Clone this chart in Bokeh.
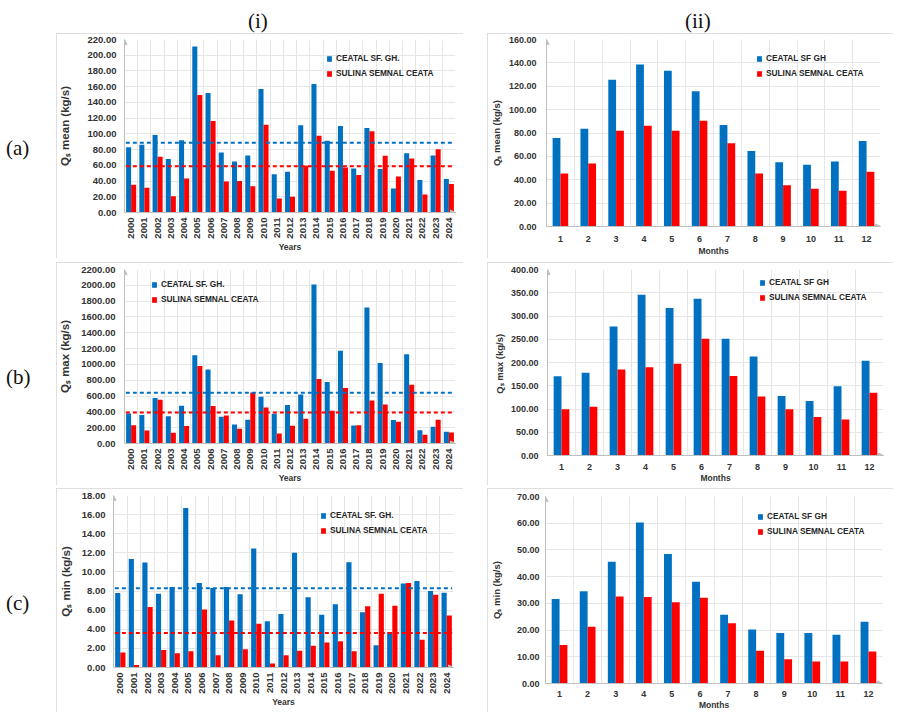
import math
from bokeh.plotting import figure
from bokeh.models import (Range1d, FixedTicker, NumeralTickFormatter, Legend, LegendItem,
                          Arrow, NormalHead, Div, Spacer, ColumnDataSource)
from bokeh.layouts import row, column
from bokeh.embed import file_html
from bokeh.resources import INLINE

# ---- categories -------------------------------------------------------------
years = ["2000", "2001", "2002", "2003", "2004", "2005", "2006", "2007", "2008",
         "2009", "2010", "2011", "2012", "2013", "2014", "2015", "2016", "2017",
         "2018", "2019", "2020", "2021", "2022", "2023", "2024"]
months = ["1", "2", "3", "4", "5", "6", "7", "8", "9", "10", "11", "12"]

# ---- annual suspended sediment discharge (kg/s) -----------------------------
ceatal_mean_annual = [83.0, 86.0, 98.5, 68.0, 92.0, 211.0, 152.0, 76.4, 65.0, 72.6,
                      157.0, 48.8, 51.8, 111.0, 163.5, 91.3, 110.0, 56.0, 107.4, 55.2,
                      30.6, 75.2, 41.2, 72.6, 42.5]
sulina_mean_annual = [35.2, 31.4, 70.9, 20.8, 43.3, 149.5, 116.3, 39.5, 39.9, 33.5,
                      111.7, 17.8, 20.0, 59.4, 97.7, 53.0, 57.3, 47.6, 103.2, 72.2,
                      45.9, 68.8, 22.9, 80.3, 36.1]
ceatal_max_annual = [380, 359, 574, 346, 477, 1115, 937, 338, 241, 300,
                     591, 376, 486, 621, 2010, 777, 1174, 228, 1720, 1018,
                     296, 1128, 169, 211, 148]
sulina_max_annual = [232, 165, 553, 135, 220, 980, 473, 355, 186, 646,
                     456, 127, 224, 312, 815, 414, 701, 232, 545, 494,
                     274, 743, 110, 300, 139]
ceatal_min_annual = [7.80, 11.36, 10.98, 7.73, 8.43, 16.68, 8.85, 8.32, 8.43, 7.66,
                     12.45, 4.83, 5.59, 12.00, 7.34, 5.52, 6.61, 11.01, 5.77, 2.34,
                     3.71, 8.78, 9.06, 8.00, 7.83]
sulina_min_annual = [1.57, 0.25, 6.33, 1.82, 1.50, 1.71, 6.08, 1.29, 4.93, 1.92,
                     4.58, 0.42, 1.29, 1.75, 2.27, 2.62, 2.76, 1.71, 6.40, 7.73,
                     6.47, 8.85, 2.90, 7.62, 5.45]

# ---- monthly suspended sediment discharge (kg/s) ----------------------------
ceatal_mean_monthly = [75.7, 83.7, 125.5, 138.7, 133.3, 115.7, 86.8, 64.7, 55.0, 52.8, 55.6, 73.2]
sulina_mean_monthly = [45.4, 53.9, 82.0, 86.2, 82.0, 90.5, 71.2, 45.4, 35.2, 32.3, 30.6, 46.8]
ceatal_max_monthly = [170.3, 178.0, 277.6, 345.6, 317.0, 337.0, 251.0, 213.0, 128.0, 117.4, 148.8, 204.0]
sulina_max_monthly = [99.5, 105.0, 185.0, 189.6, 197.5, 251.0, 171.0, 126.7, 99.5, 83.0, 77.3, 135.0]
ceatal_min_monthly = [31.6, 34.5, 45.6, 60.25, 48.5, 38.1, 25.75, 20.25, 18.9, 18.9, 18.25, 23.1]
sulina_min_monthly = [14.4, 21.25, 32.6, 32.4, 30.4, 32.1, 22.6, 12.25, 9.1, 8.25, 8.25, 12.0]

BLUE = "#0070C0"
RED = "#FF0000"
FONT = "Liberation Sans"
TEXT = "#333333"
AXIS = "#bfbfbf"
GRID = "#e6e6e6"


def panel(cats, blue, red, names, ymax, ystep, ytitle, xtitle, size, borders,
          bar_w, legend_at, show_means, rotate, tick_px, ytitle_px,
          ytick_standoff, ytitle_standoff, xtick_standoff, xtitle_standoff):
    n = len(cats)
    w, h = size
    bl, br, bt, bb = borders
    p = figure(width=w, height=h, x_range=Range1d(0.5, n + 0.5), y_range=Range1d(0, ymax),
               output_backend="svg", toolbar_location=None,
               min_border_left=bl, min_border_right=br, min_border_top=bt, min_border_bottom=bb,
               background_fill_color="white", border_fill_color="white",
               outline_line_color=None,
               styles={"outline": "1px solid #d4d4d4", "outline-offset": "-1px"})

    pos = list(range(1, n + 1))
    src = ColumnDataSource(dict(xb=[x - bar_w / 2 for x in pos],
                                xr=[x + bar_w / 2 for x in pos],
                                blue=blue, red=red))
    rb = p.vbar(x="xb", top="blue", width=bar_w, source=src, fill_color=BLUE, line_color=None)
    rr = p.vbar(x="xr", top="red", width=bar_w, source=src, fill_color=RED, line_color=None)

    if show_means:
        for vals, col in ((blue, BLUE), (red, RED)):
            m = sum(vals) / len(vals)
            p.line(x=[0.6, n + 0.4], y=[m, m], line_color=col, line_width=2, line_dash="4 3")

    # grid
    p.ygrid.ticker = FixedTicker(ticks=[i * ystep for i in range(int(round(ymax / ystep)) + 1)])
    p.ygrid.grid_line_color = GRID
    p.xgrid.ticker = FixedTicker(ticks=[i + 0.5 for i in range(n + 1)])
    p.xgrid.grid_line_color = GRID

    # axes
    for ax in (p.xaxis[0], p.yaxis[0]):
        ax.axis_line_color = AXIS
        ax.major_tick_line_color = None
        ax.minor_tick_line_color = None
        ax.major_tick_out = 0
        ax.major_tick_in = 0
        ax.minor_tick_out = 0
        ax.minor_tick_in = 0
        ax.major_label_text_font = FONT
        ax.major_label_text_font_style = "bold"
        ax.major_label_text_color = TEXT
        ax.major_label_text_font_size = f"{tick_px}px"
        ax.axis_label_text_font = FONT
        ax.axis_label_text_font_style = "bold"
        ax.axis_label_text_color = TEXT

    p.yaxis.ticker = FixedTicker(ticks=[i * ystep for i in range(int(round(ymax / ystep)) + 1)])
    p.yaxis.formatter = NumeralTickFormatter(format="0.00")
    p.yaxis.axis_label = ytitle
    p.yaxis.axis_label_text_font_size = f"{ytitle_px}px"
    p.yaxis.major_label_standoff = ytick_standoff
    p.yaxis.axis_label_standoff = ytitle_standoff

    p.xaxis.ticker = FixedTicker(ticks=pos)
    p.xaxis.major_label_overrides = {i + 1: c for i, c in enumerate(cats)}
    if rotate:
        p.xaxis.major_label_orientation = math.pi / 2
    p.xaxis.axis_label = xtitle
    p.xaxis.axis_label_text_font_size = "8.5px"
    p.xaxis.major_label_standoff = xtick_standoff
    p.xaxis.axis_label_standoff = xtitle_standoff

    # arrow heads at the axis ends
    head = dict(size=5, fill_color=AXIS, line_color=AXIS)
    p.add_layout(Arrow(end=NormalHead(**head), x_start=0.5, y_start=0, x_end=0.5, y_end=ymax,
                       line_color=AXIS, line_width=1))
    p.add_layout(Arrow(end=NormalHead(**head), x_start=0.5, y_start=0, x_end=n + 0.5, y_end=0,
                       line_color=AXIS, line_width=1))

    legend = Legend(items=[LegendItem(label=names[0], renderers=[rb]),
                           LegendItem(label=names[1], renderers=[rr])],
                    location=legend_at, orientation="vertical",
                    background_fill_alpha=0, border_line_color=None,
                    glyph_width=6, glyph_height=7, label_height=7, label_standoff=4,
                    spacing=5, padding=0, margin=0,
                    label_text_font=FONT, label_text_font_style="bold",
                    label_text_font_size="8.3px", label_text_color="#262626")
    p.add_layout(legend)
    return p


names_annual = ["CEATAL SF. GH.", "SULINA SEMNAL CEATA"]
names_monthly = ["CEATAL SF GH", "SULINA SEMNAL CEATA"]

LW, RW = 407, 406

a1 = panel(years, ceatal_mean_annual, sulina_mean_annual, names_annual, 220, 20,
           "Q\u209b mean (kg/s)", "Years", (LW, 225), (65, 8, 6, 46), 0.38, (202, 134),
           True, True, 9.5, 11.5, 8, 13, 5, 0)
a2 = panel(months, ceatal_mean_monthly, sulina_mean_monthly, names_monthly, 160, 20,
           "Q\u209b mean (kg/s)", "Months", (RW, 225), (56, 13, 6, 31), 0.28, (210, 148),
           False, False, 9, 9.5, 10, 4, 9, 1)
b1 = panel(years, ceatal_max_annual, sulina_max_annual, names_annual, 2200, 200,
           "Q\u209b max (kg/s)", "Years", (LW, 223), (68, 8, 7, 42), 0.38, (27, 139),
           True, True, 9.5, 11.5, 9, 7, 5, 0)
b2 = panel(months, ceatal_max_monthly, sulina_max_monthly, names_monthly, 400, 50,
           "Q\u209b max  (kg/s)", "Months", (RW, 223), (60, 10, 7, 30), 0.28, (212, 153),
           False, False, 9, 9.5, 9, 3, 8, 0)
c1 = panel(years, ceatal_min_annual, sulina_min_annual, names_annual, 18, 2,
           "Q\u209b min (kg/s)", "Years", (LW, 224), (54, 10, 7, 45), 0.38, (207, 132),
           True, True, 9.5, 11.5, 8, 7, 5, 0)
c2 = panel(months, ceatal_min_monthly, sulina_min_monthly, names_monthly, 70, 10,
           "Q\u209b min (kg/s)", "Months", (RW, 224), (56, 11, 8, 29), 0.28, (212, 147),
           False, False, 9, 9.5, 6, 12, 7, 0)

SERIF = "font-family:'Liberation Serif','Times New Roman',serif;font-size:21px;color:#111;"


def text_box(txt, w, h, left, top):
    return Div(text=(f'<div style="position:relative;width:{w}px;height:{h}px;{SERIF}">'
                     f'<span style="position:absolute;left:{left}px;top:{top}px;">{txt}</span></div>'),
               width=w, height=h, margin=0)


# each panel column is laid out on its own so the frames keep their own borders
labels_col = column(Spacer(width=56, height=33),
                    text_box("(a)", 56, 225, 6, 100), Spacer(width=56, height=4),
                    text_box("(b)", 56, 223, 6, 100), Spacer(width=56, height=3),
                    text_box("(c)", 56, 224, 6, 100), spacing=0)
left_col = column(text_box("(i)", LW, 33, 192, 6),
                  column(a1), Spacer(width=LW, height=4),
                  column(b1), Spacer(width=LW, height=3),
                  column(c1), spacing=0)
right_col = column(text_box("(ii)", RW, 33, 198, 6),
                   column(a2), Spacer(width=RW, height=4),
                   column(b2), Spacer(width=RW, height=3),
                   column(c2), spacing=0)

layout = row(labels_col, left_col, Spacer(width=24, height=712), right_col, spacing=0)

open("out.html", "w").write(file_html(layout, INLINE))
